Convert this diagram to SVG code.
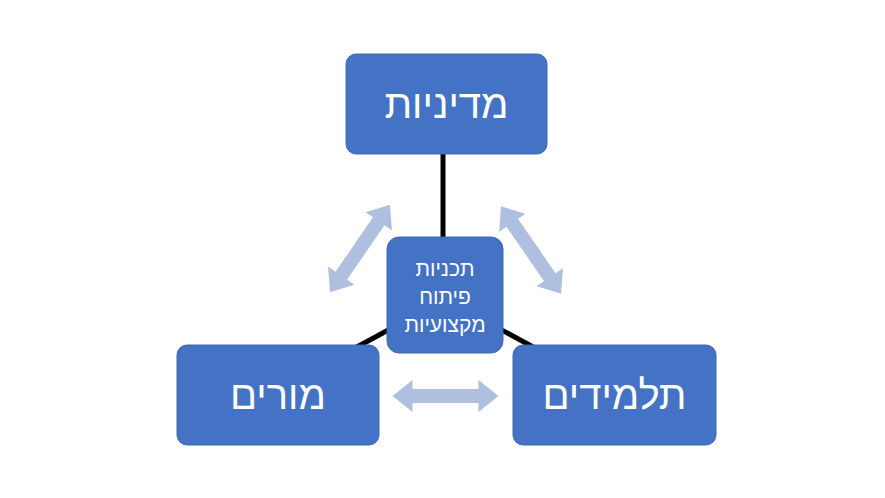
<svg xmlns="http://www.w3.org/2000/svg" width="885" height="498" viewBox="0 0 885 498">
<style>
.box{fill:#4472c4;stroke:#3f68b3;stroke-width:1}
.big{fill:#fff;font-family:"Liberation Sans","DejaVu Sans",sans-serif;font-size:40px;text-anchor:middle;dominant-baseline:central}
.small{fill:#fff;font-family:"Liberation Sans","DejaVu Sans",sans-serif;font-size:21px;text-anchor:middle;dominant-baseline:central}
.ln{stroke:#000;stroke-width:5}
.arr{fill:#afbfe0}
</style>
<defs>
<polygon id="dbl" points="-53,0 -33,-16 -33,-7 33,-7 33,-16 53,0 33,16 33,7 -33,7 -33,16"/>
</defs>
<rect width="885" height="498" fill="#fff"/>
<g id="connectors">
<line class="ln" x1="443" y1="150" x2="443" y2="240"/>
<line class="ln" x1="392" y1="328" x2="355" y2="348"/>
<line class="ln" x1="498" y1="328" x2="535" y2="348"/>
<use href="#dbl" class="arr" transform="translate(360,248.5) rotate(124.6)"/>
<use href="#dbl" class="arr" transform="translate(531,250) rotate(55.4)"/>
<use href="#dbl" class="arr" transform="translate(445.5,396)"/>
</g>
<g id="top"><rect class="box" x="346" y="54" width="201" height="100" rx="10"/><text class="big" x="446.5" y="104">מדיניות</text></g>
<g id="left"><rect class="box" x="177" y="345" width="202" height="100" rx="10"/><text class="big" x="278" y="395">מורים</text></g>
<g id="right"><rect class="box" x="513" y="345" width="203" height="100" rx="10"/><text class="big" x="614.5" y="395">תלמידים</text></g>
<g id="center"><rect class="box" x="387" y="237" width="116" height="116" rx="12"/>
<text class="small" x="445" y="268">תכניות</text><text class="small" x="445" y="296">פיתוח</text><text class="small" x="445" y="324">מקצועיות</text></g>
</svg>
